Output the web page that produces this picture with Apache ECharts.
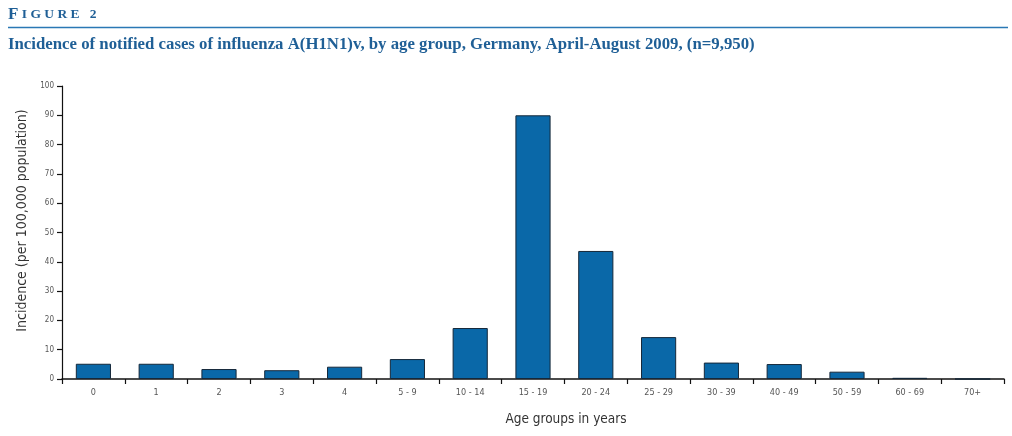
<!DOCTYPE html>
<html>
<head>
<meta charset="utf-8">
<script src="https://cdn.jsdelivr.net/npm/echarts@6/dist/echarts.min.js"></script>
<style>
  html, body { margin: 0; padding: 0; background: #fff; }
  #chart { width: 1012px; height: 436px; }
</style>
</head>
<body>
<div id="chart"></div>
<script>
// age groups and incidence per 100,000
const ageGroups = ['0', '1', '2', '3', '4', '5 - 9', '10 - 14', '15 - 19', '20 - 24', '25 - 29', '30 - 39', '40 - 49', '50 - 59', '60 - 69', '70+'];
const incidence = [5.2, 5.2, 3.4, 3.0, 4.2, 6.8, 17.4, 90.0, 43.7, 14.3, 5.6, 5.1, 2.5, 0.4, 0];
const yTicks = [0, 10, 20, 30, 40, 50, 60, 70, 80, 90, 100];

const titleBlue = '#1f5f96';
const sansFont = '"DejaVu Sans Condensed", "DejaVu Sans", sans-serif';

let chart = echarts.init(document.getElementById('chart'));

let option = {
    animation: false,
    graphic: [
        {
            type: 'text', left: 8, top: 6,
            style: {
                text: '{a|F}{b| I G U R E   2}',
                rich: {
                    a: { fontFamily: 'Liberation Serif', fontWeight: 'bold', fontSize: 17, fill: titleBlue },
                    b: { fontFamily: 'Liberation Serif', fontWeight: 'bold', fontSize: 13.5, fill: titleBlue }
                }
            }
        },
        {
            type: 'line',
            shape: { x1: 8, y1: 27.5, x2: 1008, y2: 27.5 },
            style: { stroke: '#2a78b5', lineWidth: 1.5 }
        },
        {
            type: 'text', left: 8, top: 36,
            style: {
                text: 'Incidence of notified cases of influenza A(H1N1)v, by age group, Germany, April-August 2009, (n=9,950)',
                fontFamily: 'Liberation Serif', fontWeight: 'bold', fontSize: 16.8, fill: titleBlue
            }
        }
    ],
    grid: { left: 62, right: 8, top: 86, bottom: 57 },
    xAxis: {
        type: 'category',
        data: ageGroups,
        name: 'Age groups in years',
        nameLocation: 'middle',
        nameGap: 33,
        nameTextStyle: { fontFamily: sansFont, fontSize: 13.5, color: '#333', padding: [0, 0, 0, 66] },
        axisLine: { lineStyle: { color: '#111', width: 1.5 } },
        axisTick: { show: true, length: 5, lineStyle: { color: '#111', width: 1.2 } },
        axisLabel: { fontFamily: sansFont, fontSize: 9, color: '#555', margin: 9 }
    },
    yAxis: {
        type: 'value',
        min: yTicks[0],
        max: yTicks[yTicks.length - 1],
        interval: 10,
        name: 'Incidence (per 100,000 population)',
        nameLocation: 'middle',
        nameGap: 33,
        nameTextStyle: { fontFamily: sansFont, fontSize: 14, color: '#333', padding: [0, 0, 0, 24] },
        splitLine: { show: false },
        axisLine: { show: true, lineStyle: { color: '#111', width: 1.2 } },
        axisTick: { show: true, length: 5, lineStyle: { color: '#111', width: 1.2 } },
        axisLabel: { fontFamily: sansFont, fontSize: 8, color: '#555', margin: 8 }
    },
    series: [{
        type: 'bar',
        data: incidence,
        barWidth: '56%',
        itemStyle: { color: '#0a68a8', borderColor: '#15283a', borderWidth: 1 }
    }]
};

chart.setOption(option);
</script>
</body>
</html>
